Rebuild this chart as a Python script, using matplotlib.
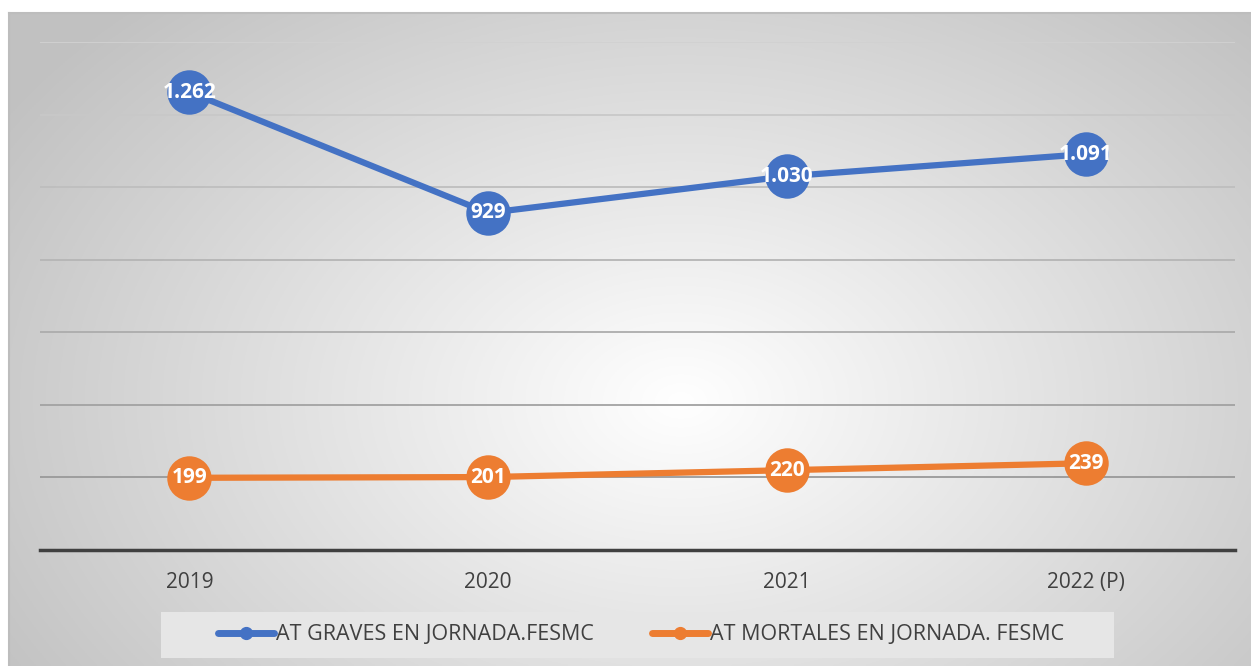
import numpy as np
import matplotlib
matplotlib.use("Agg")
import matplotlib.pyplot as plt
from matplotlib.lines import Line2D
from matplotlib.patches import Rectangle

categories = ["2019", "2020", "2021", "2022 (P)"]
graves = [1262, 929, 1030, 1091]
mortales = [199, 201, 220, 239]
graves_labels = ["1.262", "929", "1.030", "1.091"]
mortales_labels = ["199", "201", "220", "239"]
series_names = ["AT GRAVES EN JORNADA.FESMC", "AT MORTALES EN JORNADA. FESMC"]
colors = ["#4472C4", "#ED7D31"]

W, H = 1251, 666
fig = plt.figure(figsize=(W / 100, H / 100), dpi=100, facecolor="white")
plt.rcParams['font.family'] = ['Open Sans', 'DejaVu Sans']

# background panel with radial gradient
bg = fig.add_axes([9 / W, 0, 1 - 9 / W, (H - 13) / H])
bg.set_zorder(0)
ny, nx = 300, 600
yy, xx = np.mgrid[0:ny, 0:nx]
px = 9 + xx / nx * (W - 9)
py = 13 + yy / ny * (H - 13)
cx, cy = 680, 400
r = np.sqrt(((px - cx) / 760) ** 2 + ((py - cy) / 520) ** 2)
val = 1.0 - 0.23 * np.clip(r, 0, 1.2)
val = np.clip(val, 0.76, 1.0)
img = np.dstack([val, val, val])
bg.imshow(img, aspect="auto", extent=[0, 1, 0, 1], origin="upper")
bg.set_xlim(0, 1)
bg.set_ylim(0, 1)
bg.axis("off")
bg.plot([0, 1], [1, 1], color="#bdbdbd", lw=1.5, transform=bg.transAxes, clip_on=False)
bg.plot([0, 0], [0, 1], color="#bdbdbd", lw=1.5, transform=bg.transAxes, clip_on=False)

ax = fig.add_axes([40 / W, (H - 550) / H, (1235 - 40) / W, (550 - 42) / H])
ax.set_zorder(1)
ax.patch.set_alpha(0)
x = np.arange(len(categories))
ax.set_xlim(-0.5, len(categories) - 0.5)
ax.set_ylim(0, 1400)
grid_levels = np.arange(200, 1401, 200)
ax.set_yticks(grid_levels)
for lv in grid_levels:
    g = 0.60 + 0.22 * (lv - 200) / 1200
    ax.axhline(lv, color=(g, g, g), lw=1.3, zorder=1)
ax.tick_params(axis="y", left=False, labelleft=False)
ax.tick_params(axis="x", bottom=False, labelsize=15, labelcolor="#404040", pad=12)
ax.set_xticks(x)
ax.set_xticklabels(categories)
for s in ["top", "right", "left"]:
    ax.spines[s].set_visible(False)
ax.spines["bottom"].set_color("#404040")
ax.spines["bottom"].set_linewidth(2.5)
ax.spines["bottom"].set_zorder(2)

for vals, labs, c in [(graves, graves_labels, colors[0]), (mortales, mortales_labels, colors[1])]:
    ax.plot(x, vals, color=c, lw=4.5, marker="o", markersize=32, markeredgewidth=0,
            solid_capstyle="round", zorder=3)
    for xi, v, l in zip(x, vals, labs):
        ax.text(xi, v, l, ha="center", va="center", color="white", fontsize=15,
                fontweight="bold", zorder=4)

# legend box
fig.patches.append(Rectangle((161 / W, 1 - 658 / H), (1114 - 161) / W, 46 / H,
                             transform=fig.transFigure, facecolor="#e6e6e6",
                             edgecolor="none", zorder=2))

handles = [Line2D([0], [0], color=c, lw=5, marker="o", markersize=8.5, solid_capstyle="round")
           for c in colors]
leg = fig.legend(handles, series_names, loc="center", ncol=2,
                 bbox_to_anchor=(641 / W, 1 - 635 / H),
                 frameon=False, fontsize=15.5, handlelength=2.6,
                 handletextpad=0.1, columnspacing=2.7, borderpad=0.45, borderaxespad=0)
for t in leg.get_texts():
    t.set_color("#404040")
leg.set_zorder(5)

fig.savefig("out.png", dpi=100, facecolor="white")
